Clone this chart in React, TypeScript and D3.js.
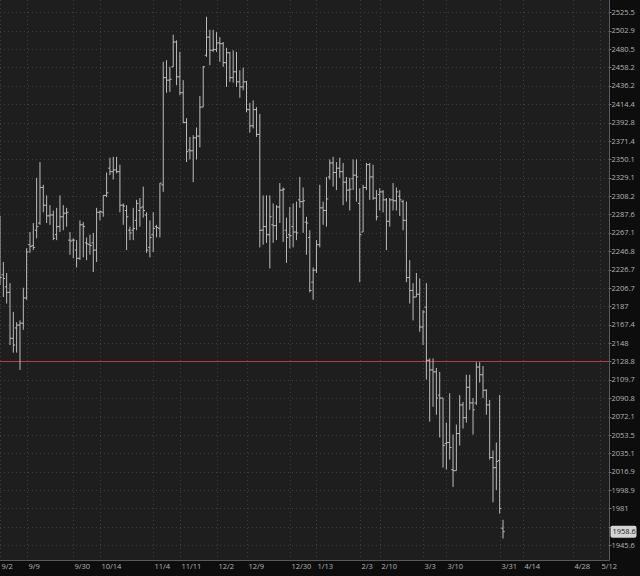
import React from 'react';
import * as d3 from 'd3';

// Daily OHLC bars (chronological)
const openP = [2283,2221,2208,2202,2153,2164,2167,2169,2196,2254,2253,2270,2278,2318,2298,2286,2287,2265,2274,2285,2289,2259,2259,2248,2239,2276,2256,2254,2256,2248,2290,2290,2309,2340,2336,2338,2336,2298,2292,2270,2270,2281,2292,2296,2287,2251,2265,2274,2272,2321,2446,2443,2459,2489,2447,2428,2393,2361,2360,2375,2377,2411,2473,2495,2479,2480,2488,2487,2464,2476,2446,2453,2441,2435,2441,2408,2389,2408,2379,2270,2274,2265,2276,2275,2296,2315,2270,2265,2274,2268,2304,2302,2279,2262,2213,2226,2254,2295,2292,2330,2346,2335,2340,2336,2324,2315,2328,2332,2300,2268,2318,2344,2330,2306,2310,2313,2304,2280,2304,2303,2308,2302,2281,2218,2204,2197,2200,2165,2186,2130,2120,2118,2094,2091,2045,2046,2019,2018,2055,2084,2071,2102,2086,2086,2123,2115,2099,2084,2031,2021,2028,1962];
const highP = [2286,2235,2223,2212,2181,2170,2172,2207,2250,2268,2278,2329,2347,2321,2309,2298,2292,2295,2309,2298,2295,2268,2261,2259,2281,2279,2262,2265,2267,2295,2292,2309,2335,2352,2353,2353,2344,2300,2298,2274,2295,2304,2306,2319,2290,2281,2290,2276,2323,2465,2467,2459,2498,2491,2477,2443,2398,2376,2378,2387,2424,2460,2520,2504,2504,2501,2495,2489,2482,2477,2479,2477,2455,2458,2442,2416,2419,2411,2403,2309,2309,2309,2300,2298,2323,2318,2284,2296,2300,2302,2330,2318,2285,2270,2229,2259,2321,2302,2330,2350,2353,2347,2352,2346,2330,2329,2350,2350,2317,2321,2346,2346,2344,2315,2317,2315,2306,2306,2323,2318,2315,2304,2302,2237,2212,2223,2217,2183,2212,2132,2132,2122,2118,2091,2066,2096,2054,2064,2094,2087,2115,2115,2091,2128,2128,2124,2100,2089,2038,2046,2094,1970];
const lowP = [2210,2197,2190,2146,2138,2138,2120,2162,2194,2245,2248,2261,2276,2290,2278,2276,2259,2259,2268,2270,2274,2243,2239,2229,2237,2240,2237,2243,2224,2235,2281,2285,2307,2332,2327,2334,2290,2276,2248,2259,2259,2270,2274,2284,2245,2240,2246,2262,2262,2313,2428,2429,2459,2437,2425,2392,2347,2350,2324,2350,2364,2411,2471,2461,2477,2477,2465,2459,2435,2441,2440,2435,2422,2431,2405,2381,2386,2376,2251,2254,2256,2228,2256,2259,2278,2257,2234,2250,2251,2259,2295,2267,2243,2202,2194,2223,2251,2276,2274,2327,2319,2315,2329,2298,2302,2292,2315,2302,2213,2268,2315,2304,2304,2281,2292,2290,2248,2274,2292,2292,2286,2270,2213,2190,2172,2197,2160,2146,2110,2067,2082,2074,2051,2021,2019,2029,2002,2018,2043,2060,2066,2079,2054,2084,2107,2091,2074,2029,1987,1999,1976,1952];
const closeP = [2218,2217,2202,2153,2146,2167,2169,2196,2246,2252,2251,2274,2318,2298,2286,2287,2261,2274,2285,2289,2290,2258,2259,2239,2276,2274,2255,2253,2248,2290,2291,2309,2312,2336,2338,2336,2298,2297,2285,2267,2272,2300,2295,2292,2248,2262,2272,2273,2323,2446,2443,2444,2489,2447,2428,2393,2359,2360,2375,2377,2411,2459,2495,2479,2480,2488,2487,2464,2476,2446,2453,2441,2435,2441,2408,2389,2408,2379,2270,2274,2265,2285,2275,2296,2315,2316,2262,2264,2268,2267,2302,2303,2278,2204,2226,2254,2295,2292,2305,2346,2335,2340,2336,2324,2315,2316,2332,2330,2265,2318,2344,2330,2306,2285,2313,2304,2280,2304,2303,2313,2304,2281,2218,2204,2197,2200,2165,2181,2130,2120,2118,2091,2091,2043,2046,2041,2018,2055,2084,2071,2102,2086,2079,2123,2115,2099,2084,2031,2021,2027,1981,1958.6];

// Axis labels (the 1963.3 level sits under the last-price flag, so only its tick/grid is drawn)
const yTickLabels = ['2525.5','2502.9','2480.5','2458.2','2436.2','2414.4','2392.8','2371.4','2350.1','2329.1','2308.2','2287.6','2267.1','2246.8','2226.7','2206.7','2187','2167.4','2148','2128.8','2109.7','2090.8','2072.1','2053.5','2035.1','2016.9','1998.9','1981','1963.3','1945.6'];
const hiddenYLabel = '1963.3';
const xTickLabels = ['9/2','9/9','9/30','10/14','11/4','11/11','12/2','12/9','12/30','1/13','2/3','2/10','3/3','3/10','3/31','4/14','4/28','5/12'];
const xTickBars = [0,8,22,30,46,54,65,74,87,95,108,114,127,134,150,157,172,180];
const refLevel = 2128.8;
const lastPrice = 1958.6;

const W = 640, H = 576;
const plotR = 609.5, plotB = 560.5;
const FONT = '"Open Sans", sans-serif';

export default function App() {
  const n = openP.length;
  const x = d3.scaleLinear().domain([0, n - 1]).range([0, 503]);
  const y = d3.scaleLog().domain([1945.6, 2525.5]).range([545.3, 12.3]);
  const tk = 1.8;
  const gridColor = '#3d3d3d';
  return (
    <svg width={W} height={H} style={{ position: 'fixed', left: 0, top: 0, background: '#0d0d0d' }}>
      <rect x={0} y={0} width={plotR} height={plotB} fill="#1e1e1e" />
      {yTickLabels.map((t) => (
        <line key={'gy' + t} x1={0} x2={plotR} y1={Math.round(y(+t)) + 0.5} y2={Math.round(y(+t)) + 0.5}
          stroke={gridColor} strokeDasharray="1 3" />
      ))}
      {xTickBars.map((b, i) => (
        <line key={'gx' + i} x1={Math.round(x(b)) + 0.5} x2={Math.round(x(b)) + 0.5} y1={0} y2={plotB}
          stroke={gridColor} strokeDasharray="1 3" />
      ))}
      <line x1={0} x2={plotR} y1={Math.round(y(refLevel)) + 0.5} y2={Math.round(y(refLevel)) + 0.5}
        stroke="#a8433f" strokeWidth={1} />
      <g stroke="#bcbcbc" strokeWidth={1}>
        {openP.map((o, i) => {
          const cx = x(i);
          return (
            <g key={'b' + i}>
              <line x1={cx} x2={cx} y1={y(highP[i])} y2={y(lowP[i])} />
              <line x1={cx - tk} x2={cx} y1={y(o)} y2={y(o)} />
              <line x1={cx} x2={cx + tk} y1={y(closeP[i])} y2={y(closeP[i])} />
            </g>
          );
        })}
      </g>
      <line x1={plotR} x2={plotR} y1={0} y2={plotB} stroke="#5a5a5a" />
      <line x1={0} x2={plotR} y1={plotB} y2={plotB} stroke="#5a5a5a" />
      {yTickLabels.map((t) => (
        <g key={'ly' + t}>
          <line x1={plotR} x2={plotR + 2} y1={Math.round(y(+t)) + 0.5} y2={Math.round(y(+t)) + 0.5} stroke="#777" />
          {t !== hiddenYLabel && (
            <text x={611.5} y={y(+t)} dy="0.35em" fill="#b4b4b4" fontSize={7.5} fontFamily={FONT}>{t}</text>
          )}
        </g>
      ))}
      {xTickBars.map((b, i) => (
        <text key={'lx' + i} x={Math.round(x(b)) + 1.5} y={569} fill="#b4b4b4" fontSize={7.5} fontFamily={FONT}>
          {xTickLabels[i]}
        </text>
      ))}
      <rect x={610.5} y={y(lastPrice) - 6} width={26} height={12} rx={2} fill="#d4d4d4" />
      <text x={612.5} y={y(lastPrice)} dy="0.35em" fill="#1a1a1a" fontSize={7.5} fontFamily={FONT}>
        {String(lastPrice)}
      </text>
    </svg>
  );
}
